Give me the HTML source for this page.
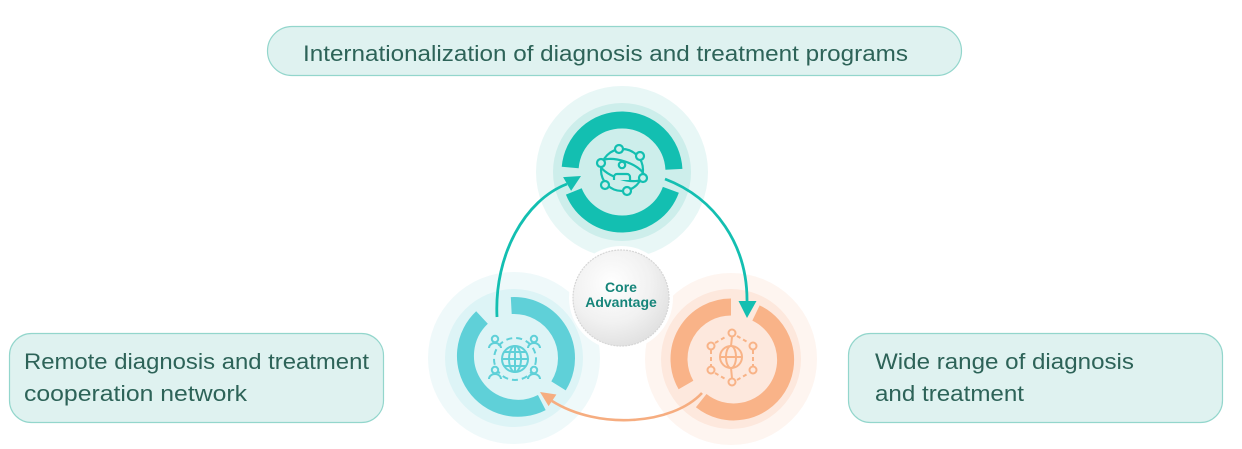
<!DOCTYPE html>
<html>
<head>
<meta charset="utf-8">
<style>
html,body{margin:0;padding:0;background:#fff;}
svg{display:block;}
</style>
</head>
<body>
<svg width="1242" height="449" viewBox="0 0 1242 449" xmlns="http://www.w3.org/2000/svg">
<defs>
<radialGradient id="core" cx="0.4" cy="0.35" r="0.75">
<stop offset="0" stop-color="#ffffff"/>
<stop offset="0.55" stop-color="#f1f1f1"/>
<stop offset="1" stop-color="#dcdcdc"/>
</radialGradient>
</defs>
<rect width="1242" height="449" fill="#fff"/>

<!-- text boxes -->
<rect x="267.5" y="26.5" width="694" height="49" rx="24.5" fill="#dff2f0" stroke="#93d6cc" stroke-width="1.2"/>
<rect x="9.5" y="333.5" width="374" height="89" rx="22" fill="#dff2f0" stroke="#93d6cc" stroke-width="1.2"/>
<rect x="848.5" y="333.5" width="374" height="89" rx="22" fill="#dff2f0" stroke="#93d6cc" stroke-width="1.2"/>

<g font-family="'Liberation Sans', sans-serif" font-size="22" fill="#2d6358">
<text x="303" y="61" textLength="605" lengthAdjust="spacingAndGlyphs">Internationalization of diagnosis and treatment programs</text>
<text x="24" y="369" textLength="345" lengthAdjust="spacingAndGlyphs">Remote diagnosis and treatment</text>
<text x="24" y="401" textLength="223" lengthAdjust="spacingAndGlyphs">cooperation network</text>
<text x="875" y="369" textLength="259" lengthAdjust="spacingAndGlyphs">Wide range of diagnosis</text>
<text x="875" y="401" textLength="149" lengthAdjust="spacingAndGlyphs">and treatment</text>
</g>

<!-- halos -->
<circle cx="622" cy="172" r="86" fill="#e8f7f6"/>
<circle cx="622" cy="172" r="69" fill="#cdeeeb"/>
<circle cx="514" cy="358" r="86" fill="#eff9fa"/>
<circle cx="514" cy="358" r="69" fill="#ddf4f6"/>
<circle cx="731" cy="359" r="86" fill="#fef5f0"/>
<circle cx="731" cy="359" r="70" fill="#fde8dd"/>

<!-- core -->
<circle cx="621" cy="298" r="52" fill="#ffffff"/>
<circle cx="621" cy="298" r="48" fill="url(#core)" stroke="#d6d6d6" stroke-width="1.2" stroke-dasharray="2 1"/>
<g font-family="'Liberation Sans', sans-serif" font-size="14" font-weight="bold" fill="#16857a" text-anchor="middle">
<text x="621" y="292">Core</text>
<text x="621" y="307">Advantage</text>
</g>

<!-- rings -->
<g fill="none" stroke-width="17">
<path d="M670.86,189.78 A52,52 0 0 1 573.79,191.48" stroke="#13bfb1"/>
<path d="M570.20,167.47 A52,52 0 0 1 673.93,169.28" stroke="#13bfb1"/>
<path d="M541.82,402.52 A52.5,52.5 0 0 1 482.0,317.5" stroke="#5fd0d8"/>
<path d="M511.25,305.57 A52.5,52.5 0 0 1 558.52,385.82" stroke="#5fd0d8"/>
<path d="M756.0,313.0 A52,52 0 1 1 701.2,400.6" stroke="#f9b388"/>
<path d="M685.97,385 A52,52 0 0 1 731,307" stroke="#f9b388"/>
</g>

<!-- top icon -->
<g fill="none" stroke="#13bfb1" stroke-width="2.2">
<circle cx="622" cy="170" r="21"/>
<ellipse cx="622" cy="170" rx="23" ry="9" transform="rotate(18 622 170)"/>
<circle cx="622" cy="165" r="3.2" fill="#cdeeeb"/>
<path d="M614,180 v-3 a3,3 0 0 1 3,-3 h10 a3,3 0 0 1 3,3 v3" fill="#cdeeeb"/>
</g>
<g fill="#cdeeeb" stroke="#13bfb1" stroke-width="2.2">
<circle cx="619" cy="149" r="4"/>
<circle cx="640" cy="156" r="4"/>
<circle cx="601" cy="163" r="4"/>
<circle cx="643" cy="178" r="4"/>
<circle cx="605" cy="185" r="4"/>
<circle cx="627" cy="191" r="4"/>
</g>

<!-- left icon -->
<g fill="none" stroke="#5fd0d8" stroke-width="2">
<circle cx="515" cy="359" r="13"/>
<ellipse cx="515" cy="359" rx="6" ry="13"/>
<line x1="502" y1="359" x2="528" y2="359"/>
<line x1="515" y1="346" x2="515" y2="372"/>
<line x1="504" y1="352" x2="526" y2="352"/>
<line x1="504" y1="366" x2="526" y2="366"/>
<circle cx="515" cy="359" r="21" stroke-dasharray="6 4"/>
<circle cx="495" cy="339" r="3.2" fill="#ddf4f6"/>
<path d="M489,348 a6,5 0 0 1 12,0"/>
<circle cx="534" cy="339" r="3.2" fill="#ddf4f6"/>
<path d="M528,348 a6,5 0 0 1 12,0"/>
<circle cx="495" cy="370" r="3.2" fill="#ddf4f6"/>
<path d="M489,379 a6,5 0 0 1 12,0"/>
<circle cx="534" cy="370" r="3.2" fill="#ddf4f6"/>
<path d="M528,379 a6,5 0 0 1 12,0"/>
</g>

<!-- right icon -->
<g fill="none" stroke="#f8b387" stroke-width="2">
<circle cx="731" cy="357" r="11"/>
<ellipse cx="731" cy="357" rx="5" ry="11"/>
<line x1="720" y1="357" x2="742" y2="357"/>
<line x1="732" y1="337" x2="731" y2="346"/>
<line x1="732" y1="378" x2="731" y2="368"/>
<line x1="715" y1="343" x2="727" y2="336" stroke-dasharray="4 3"/>
<line x1="737" y1="336" x2="749" y2="343" stroke-dasharray="4 3"/>
<line x1="711" y1="350" x2="711" y2="366" stroke-dasharray="4 3"/>
<line x1="753" y1="350" x2="753" y2="366" stroke-dasharray="4 3"/>
<line x1="715" y1="373" x2="727" y2="380" stroke-dasharray="4 3"/>
<line x1="737" y1="380" x2="749" y2="373" stroke-dasharray="4 3"/>
</g>
<g fill="#fde8dd" stroke="#f8b387" stroke-width="2">
<circle cx="732" cy="333" r="3.5"/>
<circle cx="711" cy="346" r="3.5"/>
<circle cx="753" cy="346" r="3.5"/>
<circle cx="711" cy="370" r="3.5"/>
<circle cx="753" cy="370" r="3.5"/>
<circle cx="732" cy="382" r="3.5"/>
</g>

<!-- arrows -->
<path d="M497,317 C494,255 525,200 567,184" fill="none" stroke="#13bfb1" stroke-width="2.8"/>
<polygon points="581,176 563.1,177.1 571.1,190.9" fill="#13bfb1"/>
<path d="M665,179 C715,198 748,245 747,303" fill="none" stroke="#13bfb1" stroke-width="2.8"/>
<polygon points="747,318 738.5,301 756.5,301" fill="#13bfb1"/>
<path d="M702,393 C672,425 598,430 552,401" fill="none" stroke="#f6ad80" stroke-width="2.6"/>
<polygon points="540,392 556.4,394.5 548.6,406.1" fill="#f6ad80"/>
</svg>
</body>
</html>
